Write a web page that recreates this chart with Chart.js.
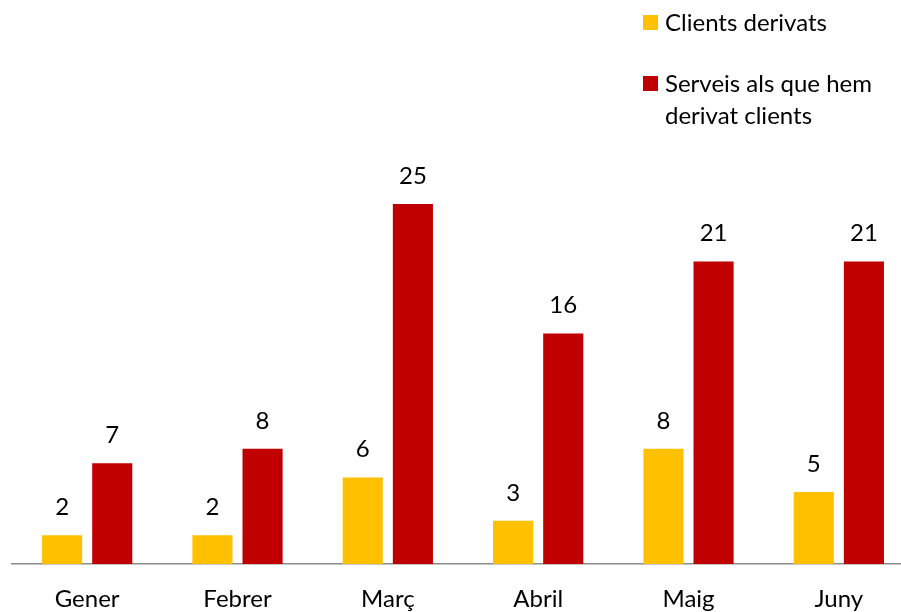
<!DOCTYPE html>
<html>
<head>
<meta charset="utf-8">
<script src="https://cdn.jsdelivr.net/npm/chart.js@4"></script>
<style>
    html, body { margin: 0; padding: 0; background: #fff; overflow: hidden; width: 901px; height: 612px; }
    #wrap { position: relative; width: 914px; height: 612px; }
    #legend { position: absolute; left: 643px; top: 6px; font-family: Lato, sans-serif; font-size: 24px; color: #000; }
    .item { position: relative; padding-left: 22px; line-height: 32px; margin-bottom: 29px; }
    .box { position: absolute; left: 0; top: 9px; width: 15px; height: 15px; }
</style>
</head>
<body>
<div id="wrap">
    <canvas id="chart" width="914" height="612"></canvas>
    <div id="legend"></div>
</div>
<script>
// Chart data
const months = ['Gener', 'Febrer', 'Març', 'Abril', 'Maig', 'Juny'];
const seriesNames = ['Clients derivats', 'Serveis als que hem derivat clients'];
const clientsDerivats = [2, 2, 6, 3, 8, 5];
const serveisDerivats = [7, 8, 25, 16, 21, 21];
const colors = ['#FFC000', '#C00000'];

const fontFamily = 'Lato, sans-serif';

// Draw the value above each bar
const valueLabels = {
    id: 'valueLabels',
    afterDatasetsDraw(chart) {
        const ctx = chart.ctx;
        ctx.save();
        ctx.font = '24px ' + fontFamily;
        ctx.fillStyle = '#000';
        ctx.textAlign = 'center';
        ctx.textBaseline = 'middle';
        chart.data.datasets.forEach((ds, i) => {
            chart.getDatasetMeta(i).data.forEach((bar, j) => {
                ctx.fillText(ds.data[j], bar.x, bar.y - 28);
            });
        });
        ctx.restore();
    }
};

// Legend (second label wraps onto two lines)
function buildLegend() {
    const legend = document.getElementById('legend');
    seriesNames.forEach((name, i) => {
        const item = document.createElement('div');
        item.className = 'item';
        const box = document.createElement('span');
        box.className = 'box';
        box.style.background = colors[i];
        item.appendChild(box);
        const text = document.createElement('span');
        text.innerHTML = i === 1 ? 'Serveis als que hem<br>derivat clients' : name;
        item.appendChild(text);
        legend.appendChild(item);
    });
}

document.addEventListener('DOMContentLoaded', function() {
    buildLegend();
    const ctx = document.getElementById('chart').getContext('2d');
    new Chart(ctx, {
        type: 'bar',
        data: {
            labels: months,
            datasets: [{
                label: seriesNames[0],
                data: clientsDerivats,
                backgroundColor: colors[0],
                categoryPercentage: 0.667,
                barPercentage: 0.8
            }, {
                label: seriesNames[1],
                data: serveisDerivats,
                backgroundColor: colors[1],
                categoryPercentage: 0.667,
                barPercentage: 0.8
            }]
        },
        options: {
            responsive: false,
            animation: false,
            layout: { padding: { left: 12, right: 0, top: 132, bottom: 0 } },
            plugins: {
                legend: { display: false },
                tooltip: { enabled: false }
            },
            scales: {
                y: {
                    display: false,
                    min: 0,
                    max: 30
                },
                x: {
                    grid: { display: false, drawTicks: false },
                    border: { display: true, color: '#8c8c8c', width: 1.5 },
                    ticks: {
                        color: '#000',
                        padding: 21,
                        font: { family: fontFamily, size: 24 }
                    },
                    afterFit(scale) { scale.height = 48; }
                }
            }
        },
        plugins: [valueLabels]
    });
});
</script>
</body>
</html>
